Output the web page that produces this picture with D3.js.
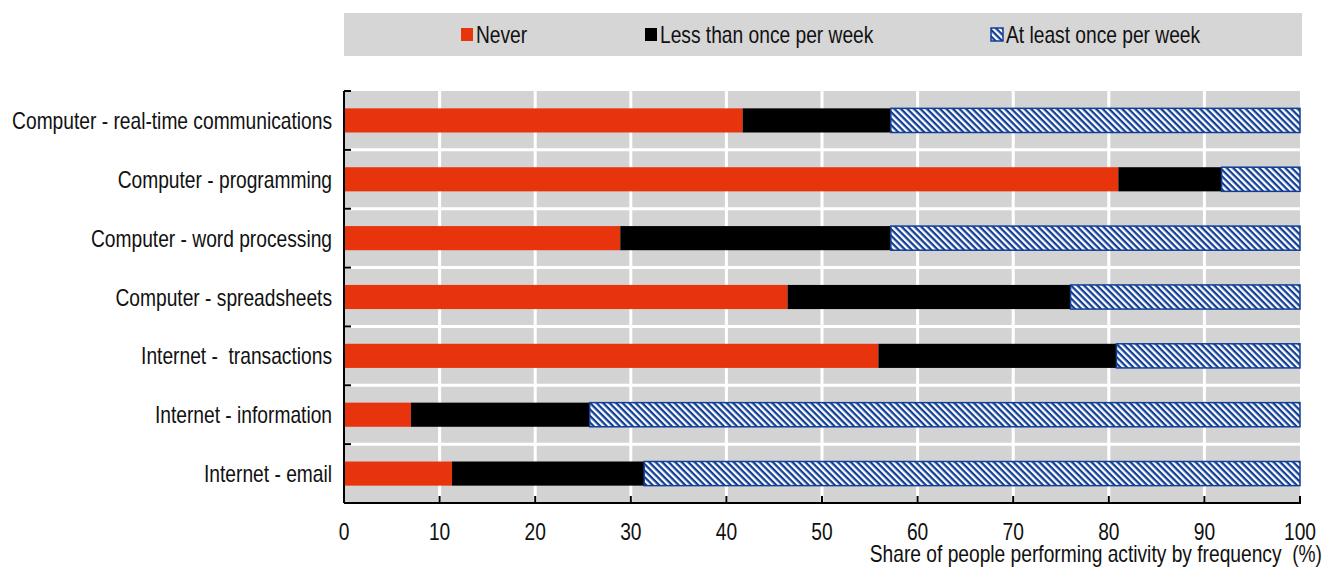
<!DOCTYPE html>
<html>
<head>
<meta charset="utf-8">
<script src="https://cdn.jsdelivr.net/npm/d3@7"></script>
<style>
  body { margin: 0; background: #fff; }
  text { font-family: "Liberation Sans Narrow", "Arial Narrow", "Liberation Sans", sans-serif; }
</style>
</head>
<body>
<svg id="canvas" width="1325" height="568"></svg>
<script>
// categories, top to bottom
let categories = [
  "Computer - real-time communications",
  "Computer - programming",
  "Computer - word processing",
  "Computer - spreadsheets",
  "Internet -  transactions",
  "Internet - information",
  "Internet - email"
];
let seriesNames = ["Never", "Less than once per week", "At least once per week"];
let never =      [41.7, 81.0, 28.9, 46.4, 55.9, 7.0, 11.3];
let lessWeekly = [15.5, 10.8, 28.3, 29.6, 24.9, 18.7, 20.1];
let weekly =     [42.8, 8.2, 42.8, 24.0, 19.2, 74.3, 68.6];
let xTicks = [0, 10, 20, 30, 40, 50, 60, 70, 80, 90, 100];

let canvas = d3.select("#canvas");

let plotLeft = 344, plotRight = 1300, plotTop = 91, plotBottom = 503;

let x = d3.scaleLinear().domain([0, 100]).range([plotLeft, plotRight]);
let y = d3.scaleBand().domain(categories).range([plotTop, plotBottom]).padding(0);

// narrow text: the reference uses a condensed face
function narrow(sel, px, py) {
  sel.attr("font-size", 24)
    .attr("fill", "#111")
    .attr("xml:space", "preserve")
    .attr("transform", (d, i) => "translate(" + (typeof px === "function" ? px(d, i) : px) + "," +
      (typeof py === "function" ? py(d, i) : py) + ") scale(0.8,1)");
  return sel;
}

// hatch pattern
let defs = canvas.append("defs");
let pat = defs.append("pattern")
  .attr("id", "hatch")
  .attr("patternUnits", "userSpaceOnUse")
  .attr("width", 4.6).attr("height", 4.6)
  .attr("patternTransform", "rotate(45)");
pat.append("rect").attr("width", 4.6).attr("height", 4.6).attr("fill", "#fff");
pat.append("rect").attr("x", 0).attr("width", 4.6).attr("height", 2.3).attr("fill", "#123f95");

// plot background
canvas.append("rect")
  .attr("x", plotLeft).attr("y", plotTop)
  .attr("width", plotRight - plotLeft).attr("height", plotBottom - plotTop)
  .attr("fill", "#d3d3d3");

// vertical white gridlines
canvas.append("g").selectAll("line")
  .data(xTicks.slice(1, -1))
  .enter().append("line")
  .attr("x1", d => x(d)).attr("x2", d => x(d))
  .attr("y1", plotTop).attr("y2", plotBottom)
  .attr("stroke", "#fff").attr("stroke-width", 3);

// horizontal white separators
canvas.append("g").selectAll("line")
  .data(categories.slice(1))
  .enter().append("line")
  .attr("x1", plotLeft).attr("x2", plotRight)
  .attr("y1", d => y(d)).attr("y2", d => y(d))
  .attr("stroke", "#fff").attr("stroke-width", 3);

// stacked bars
let rows = categories.map((c, i) => ({ cat: c, Never: never[i], "Less than once per week": lessWeekly[i], "At least once per week": weekly[i] }));
let stack = d3.stack().keys(seriesNames)(rows);
let fills = ["#e8340c", "#000", "url(#hatch)"];
let strokes = ["none", "none", "#123f95"];
let barH = y.bandwidth() * 0.41;

stack.forEach((s, k) => {
  canvas.append("g").selectAll("rect")
    .data(s)
    .enter().append("rect")
    .attr("x", d => x(d[0]))
    .attr("y", d => y(d.data.cat) + (y.bandwidth() - barH) / 2)
    .attr("width", d => x(d[1]) - x(d[0]))
    .attr("height", barH)
    .attr("fill", fills[k])
    .attr("stroke", strokes[k])
    .attr("stroke-width", 1.5);
});

// y axis
let yAxis = canvas.append("g");
yAxis.append("line")
  .attr("x1", plotLeft).attr("x2", plotLeft).attr("y1", plotTop).attr("y2", plotBottom)
  .attr("stroke", "#000").attr("stroke-width", 2);
yAxis.selectAll("line.tk")
  .data(categories)
  .enter().append("line")
  .attr("class", "tk")
  .attr("x1", plotLeft).attr("x2", plotLeft + 7)
  .attr("y1", d => y(d)).attr("y2", d => y(d))
  .attr("stroke", "#000").attr("stroke-width", 2);
narrow(yAxis.selectAll("text")
  .data(categories)
  .enter().append("text")
  .attr("text-anchor", "end")
  .text(d => d), 332, d => y(d) + y.bandwidth() / 2 + 8.5);

// x axis
let xAxis = canvas.append("g");
xAxis.append("line")
  .attr("x1", plotLeft).attr("x2", plotRight + 1).attr("y1", plotBottom).attr("y2", plotBottom)
  .attr("stroke", "#000").attr("stroke-width", 2);
xAxis.selectAll("line.tk")
  .data(xTicks)
  .enter().append("line")
  .attr("class", "tk")
  .attr("x1", d => x(d)).attr("x2", d => x(d))
  .attr("y1", plotBottom).attr("y2", plotBottom - 7)
  .attr("stroke", "#000").attr("stroke-width", 2);
narrow(xAxis.selectAll("text")
  .data(xTicks)
  .enter().append("text")
  .attr("text-anchor", "middle")
  .text(d => d), d => x(d), 540);

narrow(canvas.append("text")
  .attr("text-anchor", "end")
  .text("Share of people performing activity by frequency  (%)"), 1322, 562);

// legend
canvas.append("rect")
  .attr("x", 344).attr("y", 13).attr("width", 958).attr("height", 43)
  .attr("fill", "#d6d6d6");
let legendX = [461, 645, 991];
seriesNames.forEach((name, k) => {
  canvas.append("rect")
    .attr("x", legendX[k]).attr("y", 28)
    .attr("width", 12).attr("height", 13)
    .attr("fill", fills[k])
    .attr("stroke", strokes[k]).attr("stroke-width", 1.5);
  narrow(canvas.append("text").text(name), legendX[k] + 15, 42.5);
});
</script>
</body>
</html>
